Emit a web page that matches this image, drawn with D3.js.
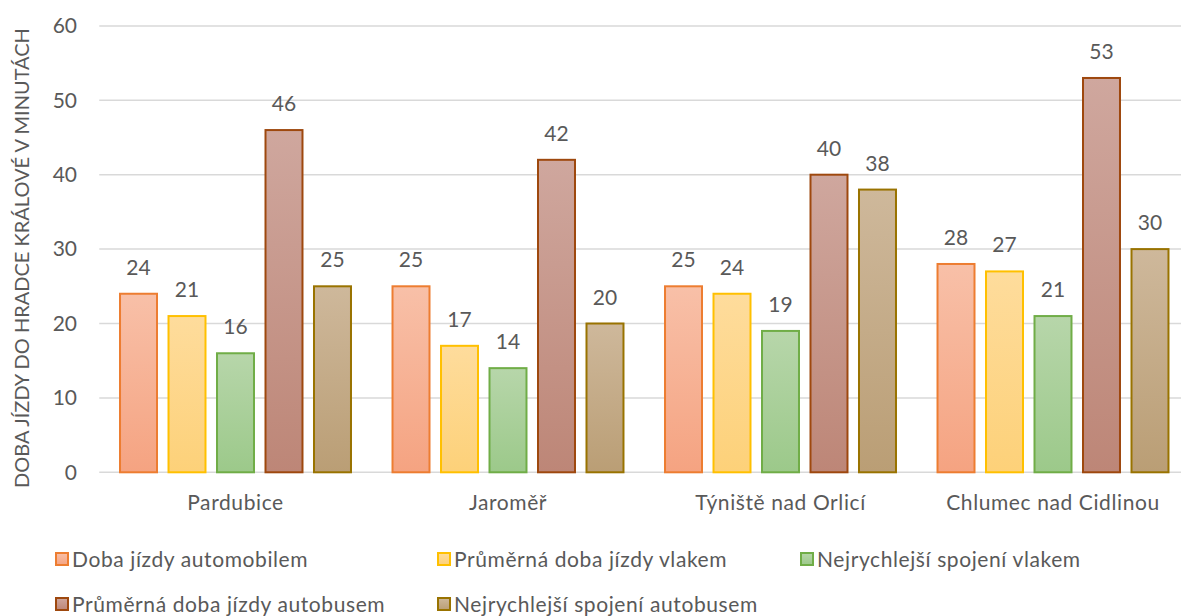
<!DOCTYPE html>
<html>
<head>
<meta charset="utf-8">
<script src="https://cdn.jsdelivr.net/npm/d3@7"></script>
<style>
  html, body { margin: 0; padding: 0; background: #fff; overflow: hidden; }
  svg { display: block; }
  text { font-family: Lato, "Open Sans", sans-serif; fill: #595959; }
</style>
</head>
<body>
<svg id="chart" width="1181" height="616"></svg>
<script>
// Travel times to Hradec Králové (minutes)
const towns = ["Pardubice", "Jaroměř", "Týniště nad Orlicí", "Chlumec nad Cidlinou"];
const seriesNames = [
  "Doba jízdy automobilem",
  "Průměrná doba jízdy vlakem",
  "Nejrychlejší spojení vlakem",
  "Průměrná doba jízdy autobusem",
  "Nejrychlejší spojení autobusem"
];
const carTimes       = [24, 25, 25, 28];
const trainAvgTimes  = [21, 17, 24, 27];
const trainFastTimes = [16, 14, 19, 21];
const busAvgTimes    = [46, 42, 40, 53];
const busFastTimes   = [25, 20, 38, 30];
const yTicks = [0, 10, 20, 30, 40, 50, 60];
const yTitle = "DOBA JÍZDY DO HRADCE KRÁLOVÉ V MINUTÁCH";

const seriesValues = [carTimes, trainAvgTimes, trainFastTimes, busAvgTimes, busFastTimes];

// fill gradient (top, bottom) and outline per series
const palette = [
  { top: "#F8C0A8", bottom: "#F5A381", stroke: "#ED7D31" },
  { top: "#FEDC9C", bottom: "#FDD179", stroke: "#FFC000" },
  { top: "#B7D6AA", bottom: "#9CC98A", stroke: "#70AD47" },
  { top: "#CFA79E", bottom: "#BD8677", stroke: "#9E480E" },
  { top: "#CEB89B", bottom: "#BA9E75", stroke: "#997300" }
];

const svg = d3.select("#chart");
const defs = svg.append("defs");
palette.forEach((p, i) => {
  const g = defs.append("linearGradient")
    .attr("id", "grad" + i).attr("x1", 0).attr("y1", 0).attr("x2", 0).attr("y2", 1);
  g.append("stop").attr("offset", "0%").attr("stop-color", p.top);
  g.append("stop").attr("offset", "100%").attr("stop-color", p.bottom);
});

const plot = { left: 99.25, right: 1189.25, top: 25.9, bottom: 472.3 };
const fontSize = 21;
const tracking = 0.6;

const y = d3.scaleLinear().domain([0, 60]).range([plot.bottom, plot.top]);
const x0 = d3.scaleBand().domain(towns).range([plot.left, plot.right]).padding(0);
const x1 = d3.scaleBand().domain(d3.range(seriesNames.length))
  .range([0, x0.bandwidth()]).paddingInner(0.196).paddingOuter(0.4075);

// horizontal gridlines
svg.append("g").selectAll("line").data(yTicks).join("line")
  .attr("x1", plot.left).attr("x2", plot.right)
  .attr("y1", d => y(d)).attr("y2", d => y(d))
  .attr("stroke", "#D9D9D9").attr("stroke-width", 1.5);

// y tick labels
const yAxis = d3.axisLeft(y).tickValues(yTicks).tickSize(0).tickPadding(0);
const yg = svg.append("g").attr("transform", `translate(77,0)`).call(yAxis);
yg.select(".domain").remove();
yg.selectAll("text")
  .attr("font-size", fontSize).attr("fill", "#595959")
  .attr("font-family", "Lato, sans-serif");

// y axis title
svg.append("text")
  .attr("transform", `translate(29,${(plot.top + plot.bottom) / 2 + 9}) rotate(-90)`)
  .attr("text-anchor", "middle")
  .attr("font-size", 20)
  .text(yTitle);

// bars
const groups = svg.append("g").selectAll("g").data(towns).join("g")
  .attr("transform", d => `translate(${x0(d)},0)`);

groups.each(function (town, ti) {
  const g = d3.select(this);
  seriesValues.forEach((vals, si) => {
    const v = vals[ti];
    g.append("rect")
      .attr("x", x1(si) + 1)
      .attr("width", x1.bandwidth() - 2)
      .attr("y", y(v))
      .attr("height", y(0) - y(v))
      .attr("fill", `url(#grad${si})`)
      .attr("stroke", palette[si].stroke)
      .attr("stroke-width", 2);
    g.append("text")
      .attr("x", x1(si) + x1.bandwidth() / 2)
      .attr("y", y(v) - 19)
      .attr("text-anchor", "middle")
      .attr("font-size", fontSize)
      .text(v);
  });
});

// category labels
const xAxis = d3.axisBottom(x0).tickSize(0).tickPadding(0);
const xg = svg.append("g").attr("transform", `translate(0,${plot.bottom + 38})`).call(xAxis);
xg.select(".domain").remove();
xg.selectAll("text")
  .attr("dy", 0)
  .attr("font-size", fontSize).attr("fill", "#595959")
  .attr("letter-spacing", tracking)
  .attr("font-family", "Lato, sans-serif");

// legend
const legendPos = [
  { x: 55, y: 560 }, { x: 437, y: 560 }, { x: 800, y: 560 },
  { x: 55, y: 605 }, { x: 437, y: 605 }
];
const legend = svg.append("g").selectAll("g").data(seriesNames).join("g")
  .attr("transform", (d, i) => `translate(${legendPos[i].x},${legendPos[i].y})`);
legend.append("rect")
  .attr("x", 1).attr("y", -7).attr("width", 12).attr("height", 12)
  .attr("fill", (d, i) => `url(#grad${i})`)
  .attr("stroke", (d, i) => palette[i].stroke).attr("stroke-width", 2);
legend.append("text")
  .attr("x", 17).attr("y", 7)
  .attr("font-size", fontSize)
  .attr("letter-spacing", tracking)
  .text(d => d);
</script>
</body>
</html>
